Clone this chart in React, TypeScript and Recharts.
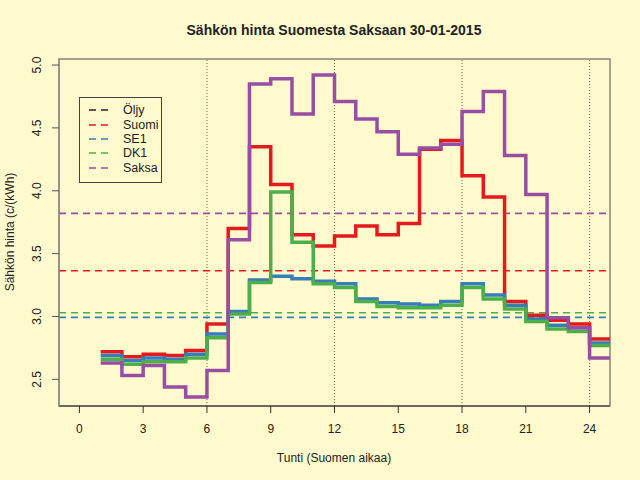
import { LineChart, Line, XAxis, YAxis, ReferenceLine, ReferenceArea } from 'recharts';

// tunnit 1..24 (hinta voimassa tunnista h seuraavaan)
const hours = [1, 2, 3, 4, 5, 6, 7, 8, 9, 10, 11, 12, 13, 14, 15, 16, 17, 18, 19, 20, 21, 22, 23, 24];

const suomi = [2.72, 2.68, 2.70, 2.69, 2.73, 2.94, 3.70, 4.35, 4.05, 3.65, 3.56, 3.64, 3.72, 3.65, 3.74, 4.33, 4.40, 4.12, 3.95, 3.12, 3.01, 2.97, 2.94, 2.82];
const se1 = [2.69, 2.65, 2.67, 2.66, 2.70, 2.86, 3.04, 3.29, 3.32, 3.30, 3.28, 3.26, 3.14, 3.11, 3.10, 3.09, 3.12, 3.26, 3.17, 3.09, 2.98, 2.93, 2.91, 2.79];
const dk1 = [2.66, 2.62, 2.64, 2.64, 2.67, 2.83, 3.02, 3.27, 3.99, 3.59, 3.26, 3.23, 3.12, 3.08, 3.07, 3.07, 3.09, 3.23, 3.14, 3.06, 2.96, 2.90, 2.88, 2.77];
const saksa = [2.63, 2.53, 2.61, 2.44, 2.36, 2.57, 3.61, 4.85, 4.89, 4.61, 4.92, 4.71, 4.57, 4.47, 4.29, 4.34, 4.37, 4.63, 4.79, 4.28, 3.97, 2.99, 2.91, 2.67];

// vuorokauden keskiarvot (katkoviivat)
const avgNames = ['Suomi', 'SE1', 'DK1', 'Saksa'];
const avgValues = [3.364, 2.993, 3.03, 3.82];

const legendNames = ['Öljy', 'Suomi', 'SE1', 'DK1', 'Saksa'];
const COLORS: Record<string, string> = {
  'Öljy': '#222222',
  Suomi: '#E41A1C',
  SE1: '#377EB8',
  DK1: '#4DAF4A',
  Saksa: '#984EA3',
};

const xTicks = [0, 3, 6, 9, 12, 15, 18, 21, 24];
const yTicks = [2.5, 3.0, 3.5, 4.0, 4.5, 5.0];
const gridX = [6, 12, 18, 24];

// viimeinen askel jatkuu tuntiin 25
const data = [...hours, 25].map((h, i) => {
  const j = Math.min(i, hours.length - 1);
  return { h, Suomi: suomi[j], SE1: se1[j], DK1: dk1[j], Saksa: saksa[j] };
});

const FONT = '"Liberation Sans", Arial, Helvetica, sans-serif';
const BG = '#FFFACD';

const YTick = (props: any) => {
  const { y, payload } = props;
  return (
    <text
      x={41}
      y={y}
      transform={`rotate(-90, 41, ${y})`}
      textAnchor="middle"
      fontSize={12}
      fill="#222"
      fontFamily={FONT}
    >
      {payload.value.toFixed(1)}
    </text>
  );
};

const XTick = (props: any) => {
  const { x, payload } = props;
  return (
    <text x={x} y={433} textAnchor="middle" fontSize={12} fill="#222" fontFamily={FONT}>
      {payload.value}
    </text>
  );
};

export default function App() {
  return (
    <div
      style={{
        position: 'absolute',
        left: 0,
        top: 0,
        width: 640,
        height: 480,
        background: BG,
        fontFamily: FONT,
      }}
    >
      <LineChart
        width={640}
        height={480}
        data={data}
        margin={{ top: 59, right: 30, left: 0, bottom: 0 }}
      >
        <XAxis
          dataKey="h"
          type="number"
          domain={[-0.96, 24.96]}
          allowDataOverflow
          ticks={xTicks}
          height={74}
          axisLine={{ stroke: '#333' }}
          tickLine={{ stroke: '#333' }}
          tickSize={7}
          tick={<XTick />}
        />
        <YAxis
          type="number"
          domain={[2.288, 5.048]}
          allowDataOverflow
          ticks={yTicks}
          width={59}
          axisLine={{ stroke: '#888' }}
          tickLine={{ stroke: '#555' }}
          tickSize={7}
          tick={<YTick />}
        />
        <ReferenceArea
          x1={-0.96}
          x2={24.96}
          y1={2.288}
          y2={5.048}
          fill="none"
          stroke="#8a8478"
          strokeWidth={1.5}
          ifOverflow="visible"
        />
        {gridX.map((x) => (
          <ReferenceLine key={`g-${x}`} x={x} stroke="#666" strokeDasharray="1 2" />
        ))}
        {avgNames.map((n, i) => (
          <ReferenceLine
            key={`avg-${n}`}
            y={avgValues[i]}
            stroke={COLORS[n]}
            strokeWidth={1.6}
            strokeDasharray="7 5"
          />
        ))}
        {['Suomi', 'SE1', 'DK1', 'Saksa'].map((n) => (
          <Line
            key={n}
            dataKey={n}
            type="stepAfter"
            stroke={COLORS[n]}
            strokeWidth={3.5}
            dot={false}
            activeDot={false}
            isAnimationActive={false}
          />
        ))}
        <text x={334} y={35} textAnchor="middle" fontSize={14} fontWeight="bold" fill="#222" fontFamily={FONT}>
          Sähkön hinta Suomesta Saksaan 30-01-2015
        </text>
        <text x={334} y={462} textAnchor="middle" fontSize={12} fill="#222" fontFamily={FONT}>
          Tunti (Suomen aikaa)
        </text>
        <text
          x={14}
          y={232}
          transform="rotate(-90, 14, 232)"
          textAnchor="middle"
          fontSize={12}
          fill="#222"
          fontFamily={FONT}
        >
          Sähkön hinta (c/(kWh)
        </text>
      </LineChart>
      <div
        style={{
          position: 'absolute',
          left: 79,
          top: 97,
          width: 83,
          height: 86,
          border: '1px solid #444',
          boxSizing: 'border-box',
          paddingTop: 5,
        }}
      >
        {legendNames.map((n) => (
          <div key={n} style={{ display: 'flex', alignItems: 'center', height: 14.4 }}>
            <svg width={34} height={6} style={{ marginLeft: 9, flexShrink: 0 }}>
              <line x1={0} y1={3} x2={21} y2={3} stroke={COLORS[n]} strokeWidth={1.6} strokeDasharray="7 5" />
            </svg>
            <span style={{ fontSize: 12.5, color: '#222', lineHeight: '14px', whiteSpace: 'nowrap' }}>{n}</span>
          </div>
        ))}
      </div>
    </div>
  );
}
